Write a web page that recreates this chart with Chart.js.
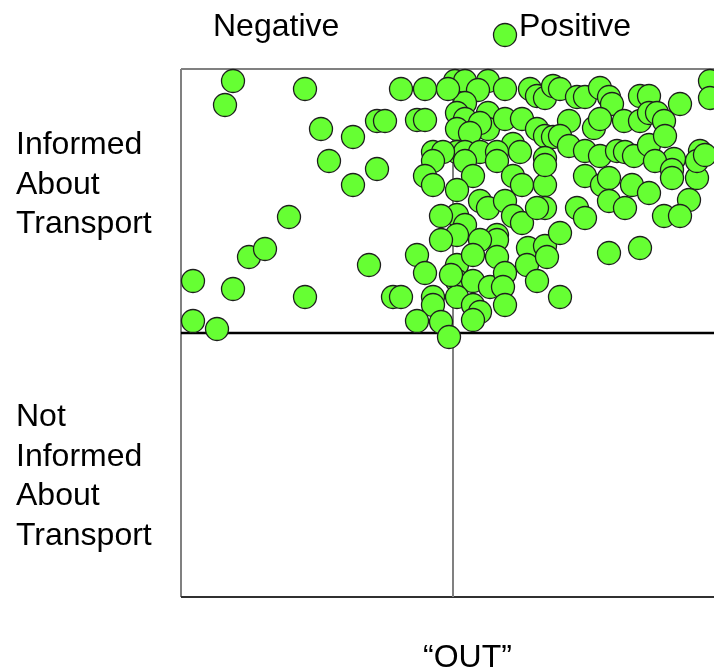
<!DOCTYPE html>
<html lang="en">
  <head>
    <meta charset="UTF-8" />
    <title>Informed about transport vs OUT</title>
    <style>
      * {
        margin: 0;
        padding: 0;
        box-sizing: border-box;
      }

      body {
        width: 714px;
        height: 668px;
        overflow: hidden;
        background: white;
        position: relative;
        font-family: "Liberation Sans", Arial, sans-serif;
      }

      #myChart {
        position: absolute;
        left: 0;
        top: 0;
      }

      .label {
        position: absolute;
        font-size: 32px;
        line-height: 39.5px;
        color: #000;
        white-space: nowrap;
      }
    </style>
  </head>
  <body>
    <canvas id="myChart" width="714" height="668"></canvas>

    <div class="label" style="left: 213px; top: 6px">Negative</div>
    <div class="label" style="left: 519px; top: 6px">Positive</div>
    <div class="label" style="left: 16px; top: 124px">Informed<br />About<br />Transport</div>
    <div class="label" style="left: 16px; top: 396px">Not<br />Informed<br />About<br />Transport</div>
    <div class="label" style="left: 423px; top: 637px">“OUT”</div>

    <script src="https://cdn.jsdelivr.net/npm/chart.js"></script>
    <script>
      // "OUT" score (x) and informed score (y), negative side of the divider
      const negX = [
        -220, -228, -148, -132, -100, -124, -100, -76, -76, -68, -164, -204, -188, -260, -220, -148, -260, -236, -84, -60, -52,
        -52, -28, -5, -36, -28, -20, -10, -20, -28, -20, -12, -12, -36, -28, -20, -20, -36, -12, -4, -2,
      ];
      const negY = [
        252, 228, 244, 204, 196, 172, 148, 164, 212, 212, 116, 76, 84, 52, 44, 36, 12, 4, 68, 36, 36,
        244, 244, 244, 213, 213, 181, 181, 172, 157, 148, 117, 93, 78, 60, 36, 28, 12, 11, -4, 58,
      ];

      // positive side
      const posX = [
        2, 12, 35, 25, 52, 77, 84, 92, 100,
        12, 4, 12, 4, 35, 35, 27, 17, 52, 69, 84, 92, 100, 60,
        4, 12, 27, 44, 67, 92, 12, 44, 20, 60, 69, 92, 92,
        4, 27, 35, 52, 60, 69, 92, 84, 4, 12, 4, 44, 44, 27, 75, 92,
        4, 20, 4, 20, 37, 44, 52, 50, 74, 84, 94, 4, 20, 27, 52, 20, 107,
        107, 124, 132, 147, 156, 159, 187, 196, 227, 257, 257,
        116, 141, 147, 171, 187, 196, 204, 211,
        107, 116, 132, 147, 164, 172, 181, 196, 212, 247, 221,
        132, 149, 156, 179, 196, 156, 172, 202, 219, 219, 244, 244, 252, 236, 211, 227, 124, 132, 107, 156, 187,
        52,
      ];
      const posY = [
        252, 252, 252, 243, 244, 244, 237, 235, 247,
        230, 220, 214, 204, 220, 204, 210, 200, 214, 214, 204, 197, 196, 189,
        181, 181, 181, 181, 181, 175, 172, 172, 157, 157, 148, 148, 168,
        143, 132, 125, 132, 117, 110, 125, 125, 118, 108, 98, 98, 93, 93, 85, 87,
        68, 78, 52, 52, 46, 76, 60, 46, 68, 52, 76, 36, 28, 21, 28, 13, 36,
        244, 236, 236, 245, 236, 229, 237, 237, 229, 252, 235,
        212, 205, 214, 212, 212, 220, 220, 212,
        197, 187, 182, 177, 182, 181, 177, 188, 197, 182, 174,
        157, 148, 155, 148, 140, 132, 125, 172, 163, 155, 155, 172, 178, 133, 117, 117, 125, 115, 100, 80, 85,
        298,
      ];

      // the framed box runs from -264 to 264 on y; the axis goes a bit higher
      // so the one stray dot above the box still gets drawn
      const frameTop = 264;

      const toPoints = (xs, ys) => xs.map((x, i) => ({ x: x, y: ys[i] }));

      const dotStyle = {
        backgroundColor: "#66ff33",
        borderColor: "#1e1e1e",
        borderWidth: 1.3,
        pointRadius: 11.5,
        pointHoverRadius: 11.5,
        clip: false,
      };

      const quadrants = {
        id: "quadrants",
        beforeDatasetsDraw(chart) {
          const {
            ctx,
            chartArea: { bottom, left, right },
            scales: { x, y },
          } = chart;
          const top = y.getPixelForValue(frameTop);
          const midX = x.getPixelForValue(0);
          const midY = y.getPixelForValue(0);
          ctx.save();
          line("#808080", 2, left, top, right, top);
          line("#808080", 2, left, top, left, bottom);
          line("#303030", 2, left, bottom, right, bottom);
          line("#808080", 2, midX, top, midX, bottom);
          line("#000000", 2.5, left, midY, right, midY);
          ctx.restore();

          function line(color, w, x1, y1, x2, y2) {
            ctx.beginPath();
            ctx.strokeStyle = color;
            ctx.lineWidth = w;
            ctx.moveTo(x1, y1);
            ctx.lineTo(x2, y2);
            ctx.stroke();
          }
        },
      };

      const ctx = document.getElementById("myChart");

      const myChart = new Chart(ctx, {
        type: "scatter",
        data: {
          datasets: [
            Object.assign({ label: "Negative", data: toPoints(negX, negY) }, dotStyle),
            Object.assign({ label: "Positive", data: toPoints(posX, posY) }, dotStyle),
          ],
        },
        options: {
          responsive: false,
          animation: false,
          layout: { autoPadding: false, padding: { left: 181, right: 0, top: 21, bottom: 71 } },
          plugins: { legend: { display: false }, tooltip: { enabled: false } },
          scales: {
            x: { type: "linear", min: -272, max: 261, display: false },
            y: { type: "linear", min: -264, max: 312, display: false },
          },
        },
        plugins: [quadrants],
      });
    </script>
  </body>
</html>
